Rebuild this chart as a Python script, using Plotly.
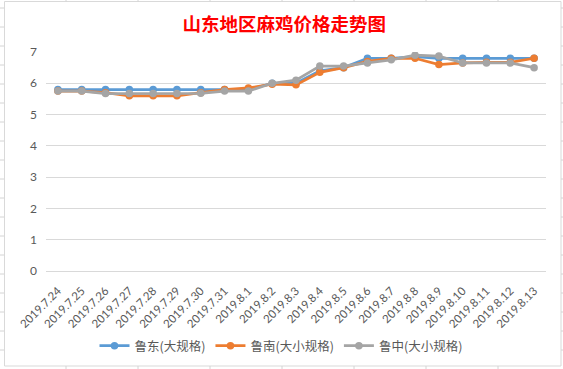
import plotly.graph_objects as go

dates = ["2019.7.24", "2019.7.25", "2019.7.26", "2019.7.27", "2019.7.28", "2019.7.29",
         "2019.7.30", "2019.7.31", "2019.8.1", "2019.8.2", "2019.8.3", "2019.8.4",
         "2019.8.5", "2019.8.6", "2019.8.7", "2019.8.8", "2019.8.9", "2019.8.10",
         "2019.8.11", "2019.8.12", "2019.8.13"]
ludong = [5.8, 5.8, 5.8, 5.8, 5.8, 5.8, 5.8, 5.8, 5.8, 6.0, 6.0, 6.4, 6.5, 6.8, 6.8,
          6.85, 6.8, 6.8, 6.8, 6.8, 6.8]
lunan = [5.75, 5.75, 5.7, 5.6, 5.6, 5.6, 5.7, 5.8, 5.85, 5.97, 5.95, 6.35, 6.5, 6.7,
         6.8, 6.8, 6.6, 6.65, 6.67, 6.67, 6.8]
luzhong = [5.75, 5.75, 5.67, 5.67, 5.67, 5.67, 5.68, 5.75, 5.75, 6.0, 6.1, 6.55, 6.55,
           6.65, 6.75, 6.9, 6.87, 6.65, 6.65, 6.65, 6.5]
names = ["鲁东(大规格)", "鲁南(大小规格)", "鲁中(大小规格)"]
colors = ["#5B9BD5", "#ED7D31", "#A5A5A5"]

W, H = 563, 369
L, R, T, B = 46, 546, 52, 271

fig = go.Figure()
for vals, nm, c in zip([ludong, lunan, luzhong], names, colors):
    fig.add_trace(go.Scatter(x=dates, y=vals, name=nm, mode="lines+markers",
                             line=dict(color=c, width=2.75),
                             marker=dict(color=c, size=7.5, symbol="circle")))

def px(x):
    return (x - L) / (R - L)

def py(y):
    return (B - y) / (B - T)

shapes = []
grid = "#D4D4D4"
for k in range(19):
    yy = 8 + 19 * k
    shapes.append(dict(type="line", xref="paper", yref="paper", x0=px(0), x1=px(4),
                       y0=py(yy), y1=py(yy), line=dict(color=grid, width=1)))
    shapes.append(dict(type="line", xref="paper", yref="paper", x0=px(561), x1=px(563),
                       y0=py(yy), y1=py(yy), line=dict(color=grid, width=1)))
for k in range(7):
    xx = 66 + 72 * k
    shapes.append(dict(type="line", xref="paper", yref="paper", x0=px(xx), x1=px(xx),
                       y0=py(0), y1=py(1.5), line=dict(color=grid, width=1)))
    shapes.append(dict(type="line", xref="paper", yref="paper", x0=px(xx), x1=px(xx),
                       y0=py(366), y1=py(369), line=dict(color=grid, width=1)))
shapes.append(dict(type="rect", xref="paper", yref="paper", x0=px(4.5), x1=px(561),
                   y0=py(366), y1=py(1.5), line=dict(color="#D9D9D9", width=1),
                   layer="below"))

fig.update_layout(
    width=W, height=H,
    margin=dict(l=L, r=W - R, t=T, b=H - B, autoexpand=False),
    paper_bgcolor="white", plot_bgcolor="white",
    title=dict(text="山东地区麻鸡价格走势图", x=0.505, xref="container", xanchor="center",
               y=1 - 24.5 / H, yref="container", yanchor="middle",
               font=dict(family="Noto Sans CJK SC", size=18.5, color="#FF0000", weight="bold")),
    xaxis=dict(type="category", showgrid=False, showline=False, ticks="", automargin=False,
               tickangle=-45, tickfont=dict(family="Lato", size=11.5, color="#595959"),
               ticklabelstandoff=10, range=[-0.5, 20.5]),
    yaxis=dict(range=[0, 7], dtick=1, showgrid=True, gridcolor="#D9D9D9", gridwidth=1,
               zeroline=True, zerolinecolor="#D9D9D9", zerolinewidth=1, showline=False,
               automargin=False,
               ticks="", tickfont=dict(family="Lato", size=12, color="#595959"),
               ticklabelstandoff=8),
    legend=dict(orientation="h", x=281 / W, xanchor="center", xref="container",
                y=1 - 346 / H, yanchor="middle", yref="container", itemwidth=30,
                font=dict(family="Noto Sans CJK SC", size=12.5, color="#595959")),
    showlegend=True,
    shapes=shapes,
)

fig.write_html("out.html", config={"displayModeBar": False},
               post_script="document.body.style.margin='0';document.body.style.padding='0';"
                           "document.body.style.overflow='hidden';")
